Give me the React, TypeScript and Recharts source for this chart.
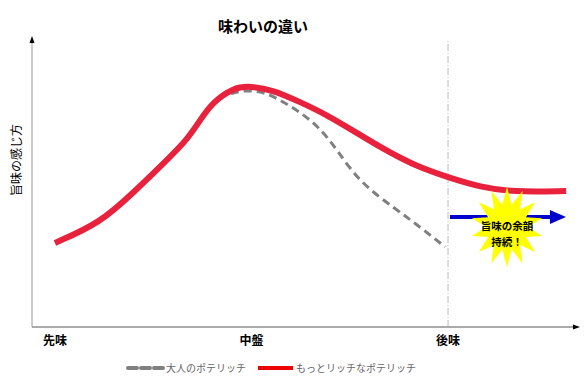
import React from 'react';
import { LineChart, Line, XAxis, YAxis, ReferenceLine, ReferenceDot } from 'recharts';

const stageTicks = [0, 1, 2];
const stageLabels = ['先味', '中盤', '後味'];

const richX = [0, 0.229, 0.397, 0.57, 0.672, 0.738, 0.804, 0.906, 0.992, 1.109, 1.247, 1.384, 1.537, 1.654, 1.822, 2.01, 2.163, 2.331, 2.601];
const richY = [29.3, 36.2, 46.7, 58.2, 65.2, 72.1, 78.4, 83.3, 84.0, 82.6, 78.4, 73.9, 67.6, 62.7, 56.4, 51.9, 48.8, 47.0, 47.4];

const adultX = [0, 0.229, 0.397, 0.57, 0.672, 0.738, 0.804, 0.906, 1.043, 1.145, 1.247, 1.349, 1.435, 1.552, 1.74, 1.858, 1.985];
const adultY = [29.3, 36.2, 46.7, 58.2, 65.2, 72.1, 78.4, 82.2, 82.6, 79.1, 74.9, 69.3, 61.7, 50.2, 40.8, 34.8, 27.9];

const richData = richX.map((x, i) => ({ x, y: richY[i] }));
const adultData = adultX.map((x, i) => ({ x, y: adultY[i] }));

const FONT = '"Noto Sans CJK JP", "Noto Sans", sans-serif';

const ArrowShape = (props: any) => {
  const { x1, y1, x2, y2 } = props;
  return (
    <g>
      <line x1={x1} y1={y1} x2={x2 - 12} y2={y2} stroke="#0000cc" strokeWidth={4} />
      <polygon points={`${x2},${y2} ${x2 - 16},${y2 - 7} ${x2 - 16},${y2 + 7}`} fill="#0000cc" />
    </g>
  );
};

const StarShape = (props: any) => {
  const { cx, cy } = props;
  const n = 14;
  const pts: string[] = [];
  for (let i = 0; i < n * 2; i++) {
    const a = (Math.PI * i) / n - Math.PI / 2;
    const rx = i % 2 === 0 ? 36 : 21;
    const ry = i % 2 === 0 ? 40 : 23;
    pts.push(`${cx + rx * Math.cos(a)},${cy + ry * Math.sin(a)}`);
  }
  return (
    <g>
      <polygon points={pts.join(' ')} fill="#ffff00" />
      <text x={cx} y={cy + 3} textAnchor="middle" fontSize={10.5} fontWeight="bold" fontFamily={FONT} fill="#000">旨味の余韻</text>
      <text x={cx} y={cy + 19} textAnchor="middle" fontSize={10.5} fontWeight="bold" fontFamily={FONT} fill="#000">持続！</text>
    </g>
  );
};

const StageTick = (props: any) => {
  const { x, y, payload } = props;
  return (
    <text x={x} y={y + 10} textAnchor="middle" fontSize={12} fontWeight="bold" fontFamily={FONT} fill="#000">
      {stageLabels[stageTicks.indexOf(payload.value)]}
    </text>
  );
};

export default function App() {
  return (
    <div style={{ position: 'absolute', left: 0, top: 0, width: 587, height: 381, background: '#fff', fontFamily: FONT }}>
      <LineChart width={587} height={381} margin={{ top: 40, right: 12, bottom: 24, left: 31 }}>
        <XAxis
          type="number"
          dataKey="x"
          domain={[-0.117, 2.646]}
          ticks={stageTicks}
          tick={<StageTick />}
          tickLine={false}
          axisLine={{ stroke: '#aaaaaa', strokeWidth: 2 }}
          height={30}
          allowDataOverflow
        />
        <YAxis
          type="number"
          dataKey="y"
          domain={[0, 100]}
          width={1}
          tick={false}
          tickLine={false}
          axisLine={{ stroke: '#999999' }}
        />
        <ReferenceLine x={2} stroke="#bbbbbb" strokeDasharray="7 2 1 2" />
        <Line data={adultData} dataKey="y" type="basis" stroke="#808080" strokeWidth={3} strokeDasharray="8 5" dot={false} isAnimationActive={false} />
        <Line data={richData} dataKey="y" type="basis" stroke="#e8213d" strokeWidth={6} dot={false} isAnimationActive={false} />
        <ReferenceLine segment={[{ x: 2.01, y: 38.3 }, { x: 2.6, y: 38.3 }]} shape={<ArrowShape />} ifOverflow="visible" />
        <ReferenceDot x={2.3} y={34.8} shape={<StarShape />} ifOverflow="visible" />
      </LineChart>
      <svg width={587} height={381} style={{ position: 'absolute', left: 0, top: 0, pointerEvents: 'none' }}>
        <polygon points="32,36 29.5,43 34.5,43" fill="#000" />
        <polygon points="580,327 573,324.5 573,329.5" fill="#000" />
        <text x={263} y={32} textAnchor="middle" fontSize={15} fontWeight="bold" fontFamily={FONT} fill="#000">味わいの違い</text>
        <text x={21} y={160} textAnchor="middle" fontSize={12} fontFamily={FONT} fill="#000" transform="rotate(-90 21 160)">旨味の感じ方</text>
        <line x1={128} y1={368} x2={163} y2={368} stroke="#808080" strokeWidth={4} strokeDasharray="9 4" strokeLinecap="round" />
        <text x={166} y={372} fontSize={10} fontFamily={FONT} fill="#666">大人のポテリッチ</text>
        <line x1={258} y1={368} x2={293} y2={368} stroke="#ee0000" strokeWidth={4} />
        <text x={296} y={372} fontSize={10} fontFamily={FONT} fill="#666">もっとリッチなポテリッチ</text>
      </svg>
    </div>
  );
}
